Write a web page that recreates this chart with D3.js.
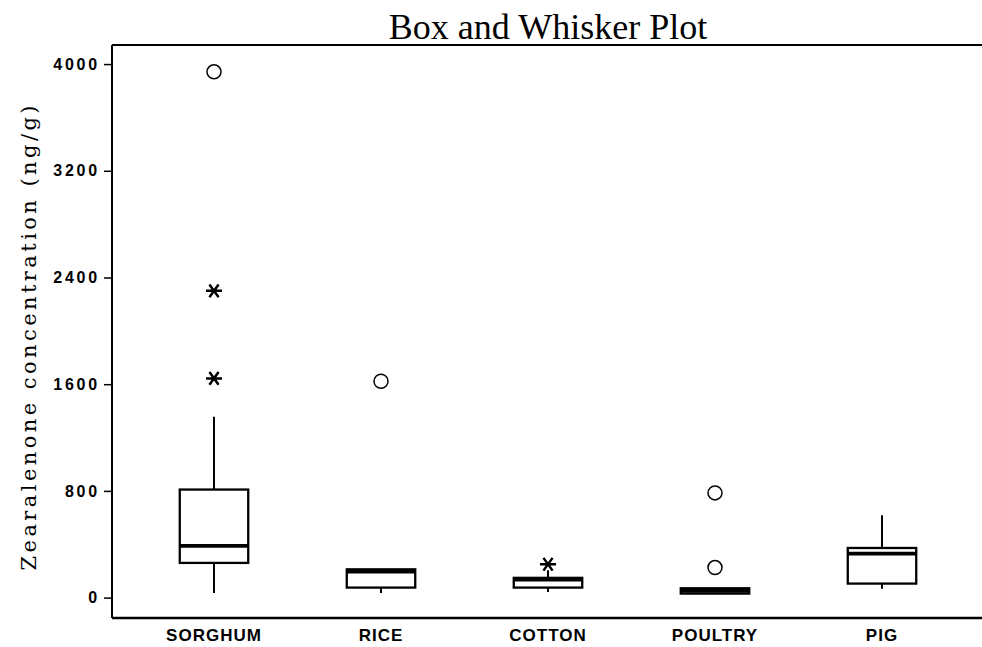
<!DOCTYPE html>
<html>
<head>
<meta charset="utf-8">
<script src="https://cdn.jsdelivr.net/npm/d3@7"></script>
<style>
  body { margin: 0; background: #fff; }
  svg { display: block; }
</style>
</head>
<body>
<script>
// box and whisker values
const categories = ["SORGHUM", "RICE", "COTTON", "POULTRY", "PIG"];
const q1 = [260, 75, 75, 30, 105];
const medians = [387, 195, 135, 50, 330];
const q3 = [810, 212, 148, 70, 372];
const whiskerLow = [35, 35, 42, 30, 67];
const whiskerHigh = [1355, 212, 205, 70, 617];
// outliers: circles = far out, stars = outside
const circleOutliers = [["SORGHUM", 3942], ["RICE", 1622], ["POULTRY", 785], ["POULTRY", 225]];
const starOutliers = [["SORGHUM", 2300], ["SORGHUM", 1643], ["COTTON", 250]];
const yTicks = [0, 800, 1600, 2400, 3200, 4000];

var width = 982, height = 647;
var margin = {top: 45, right: 0, bottom: 29, left: 112};

const data = categories.map((c, i) => ({
  cat: c, q1: q1[i], med: medians[i], q3: q3[i], lo: whiskerLow[i], hi: whiskerHigh[i]
}));

const svg = d3.select('body')
  .append("svg")
    .attr("width", width)
    .attr("height", height);

const x = d3.scaleBand()
  .domain(categories)
  .range([130.5, 965.5]);

const y = d3.scaleLinear()
  .domain([-153, 4143])
  .range([height - margin.bottom, margin.top]);

const bw = x.bandwidth() * 0.41;
const cx = d => x(d) + x.bandwidth() / 2;

// frame: left axis, top line, bottom line
svg.append("line")
  .attr("x1", margin.left).attr("x2", width)
  .attr("y1", margin.top).attr("y2", margin.top)
  .attr("stroke", "#000").attr("stroke-width", 2);
svg.append("line")
  .attr("x1", margin.left).attr("x2", width)
  .attr("y1", height - margin.bottom).attr("y2", height - margin.bottom)
  .attr("stroke", "#000").attr("stroke-width", 2.5);

const yAxis = svg.append("g")
  .attr("transform", `translate(${margin.left},0)`)
  .call(d3.axisLeft(y).tickValues(yTicks).tickSize(8).tickPadding(4).tickFormat(d3.format("d")));
yAxis.select(".domain").attr("stroke-width", 2).attr("d", `M0,${margin.top}V${height - margin.bottom}`);
yAxis.selectAll(".tick line").attr("stroke-width", 1.5);
yAxis.selectAll("text")
  .attr("font-family", "'Liberation Sans', Arial, sans-serif")
  .attr("font-size", 16)
  .attr("font-weight", "bold")
  .attr("letter-spacing", "2.8px")
  .attr("fill", "#000");

// x labels
svg.selectAll(".xlab")
  .data(categories)
  .enter().append("text")
    .attr("class", "xlab")
    .attr("x", d => cx(d))
    .attr("y", 641)
    .attr("text-anchor", "middle")
    .attr("font-family", "'Liberation Sans', Arial, sans-serif")
    .attr("font-size", 17)
    .attr("font-weight", "bold")
    .attr("letter-spacing", "1px")
    .text(d => d);

// title
svg.append("text")
  .attr("x", 548)
  .attr("y", 39)
  .attr("text-anchor", "middle")
  .attr("font-family", "'Liberation Serif', 'Times New Roman', serif")
  .attr("font-size", 36)
  .text("Box and Whisker Plot");

// y title
svg.append("text")
  .attr("transform", "translate(36,338) rotate(-90)")
  .attr("text-anchor", "middle")
  .attr("font-family", "'DejaVu Serif', serif")
  .attr("font-size", 21)
  .attr("textLength", 465)
  .attr("lengthAdjust", "spacing")
  .text("Zearalenone concentration (ng/g)");

const groups = svg.selectAll(".box")
  .data(data)
  .enter().append("g")
    .attr("class", "box");

// whiskers
groups.append("line")
  .attr("x1", d => cx(d.cat)).attr("x2", d => cx(d.cat))
  .attr("y1", d => y(d.hi)).attr("y2", d => y(d.q3))
  .attr("stroke", "#000").attr("stroke-width", 2);
groups.append("line")
  .attr("x1", d => cx(d.cat)).attr("x2", d => cx(d.cat))
  .attr("y1", d => y(d.q1)).attr("y2", d => y(d.lo))
  .attr("stroke", "#000").attr("stroke-width", 2);

groups.append("rect")
  .attr("x", d => cx(d.cat) - bw / 2)
  .attr("y", d => y(d.q3))
  .attr("width", bw)
  .attr("height", d => y(d.q1) - y(d.q3))
  .attr("fill", "#fff")
  .attr("stroke", "#000")
  .attr("stroke-width", 2.3);

groups.append("line")
  .attr("x1", d => cx(d.cat) - bw / 2).attr("x2", d => cx(d.cat) + bw / 2)
  .attr("y1", d => y(d.med)).attr("y2", d => y(d.med))
  .attr("stroke", "#000").attr("stroke-width", 3.8);

// circles
svg.selectAll(".far")
  .data(circleOutliers)
  .enter().append("circle")
    .attr("class", "far")
    .attr("cx", d => cx(d[0]))
    .attr("cy", d => y(d[1]))
    .attr("r", 7)
    .attr("fill", "none")
    .attr("stroke", "#000")
    .attr("stroke-width", 1.5);

// asterisks
const star = d3.path();
[0, 55, -55].forEach(a => {
  const r = a * Math.PI / 180, dx = 8 * Math.cos(r), dy = 6.5 * Math.sin(r) * 1.2;
  star.moveTo(-dx, -dy); star.lineTo(dx, dy);
});
svg.selectAll(".star")
  .data(starOutliers)
  .enter().append("path")
    .attr("class", "star")
    .attr("transform", d => `translate(${cx(d[0])},${y(d[1])})`)
    .attr("d", star.toString())
    .attr("stroke", "#000")
    .attr("stroke-width", 2.5)
    .attr("fill", "none");
</script>
</body>
</html>
